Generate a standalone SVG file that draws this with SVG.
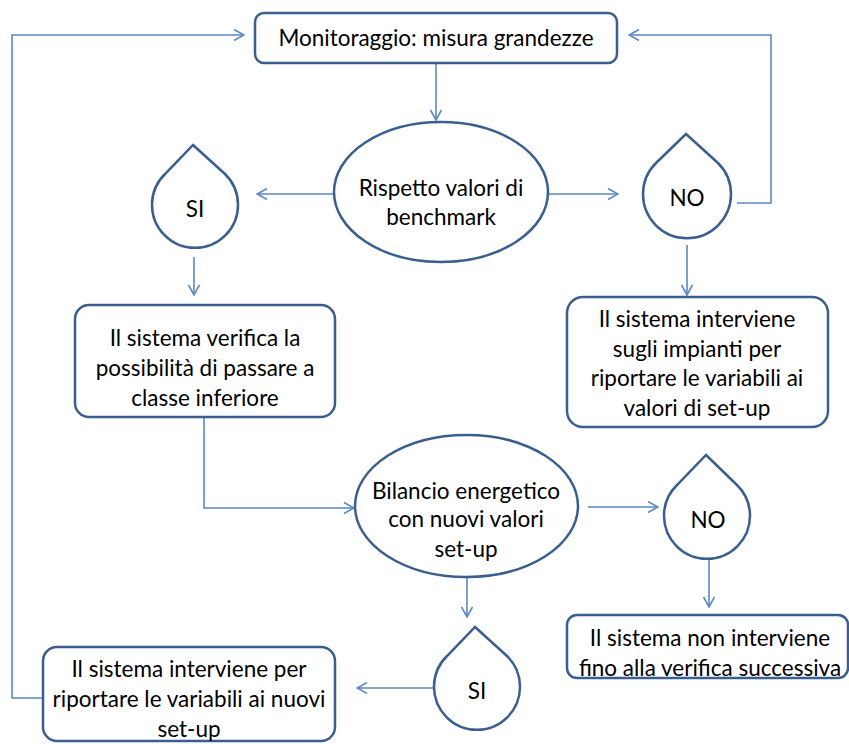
<svg xmlns="http://www.w3.org/2000/svg" width="849" height="744" viewBox="0 0 849 744">
  <style>
    .node { fill: #ffffff; stroke: #3a5f8e; stroke-width: 2.5; }
    .conn { fill: none; stroke: #5b87c2; stroke-width: 1.6; }
    text { font-family: Lato, "Liberation Sans", sans-serif; font-size: 22.5px; fill: #000000; text-anchor: middle; dominant-baseline: central; }
  </style>
  <defs>
    <marker id="arrow" viewBox="0 0 12 12" refX="11" refY="6" markerWidth="12" markerHeight="12" markerUnits="userSpaceOnUse" orient="auto">
      <path d="M1,0.5 L11,6 L1,11.5" fill="none" stroke="#5b87c2" stroke-width="1.6"/>
    </marker>
  </defs>

  <g id="connectors">
    <polyline class="conn" points="43,698 12,698 12,35 244,35" marker-end="url(#arrow)"/>
    <polyline class="conn" points="737,203 771,203 771,35 629,35" marker-end="url(#arrow)"/>
    <line class="conn" x1="436" y1="64" x2="436" y2="120" marker-end="url(#arrow)"/>
    <line class="conn" x1="333" y1="194" x2="257" y2="194" marker-end="url(#arrow)"/>
    <line class="conn" x1="548" y1="194" x2="618" y2="194" marker-end="url(#arrow)"/>
    <line class="conn" x1="194" y1="257" x2="194" y2="295" marker-end="url(#arrow)"/>
    <line class="conn" x1="687" y1="245" x2="687" y2="295" marker-end="url(#arrow)"/>
    <polyline class="conn" points="204,417 204,508 354,508" marker-end="url(#arrow)"/>
    <line class="conn" x1="588" y1="507" x2="658" y2="507" marker-end="url(#arrow)"/>
    <line class="conn" x1="709" y1="560" x2="709" y2="607" marker-end="url(#arrow)"/>
    <line class="conn" x1="467" y1="578" x2="467" y2="617" marker-end="url(#arrow)"/>
    <line class="conn" x1="435" y1="688" x2="357" y2="688" marker-end="url(#arrow)"/>
  </g>

  <g id="monitoraggio">
    <rect class="node" x="255" y="13" width="362" height="50" rx="9"/>
    <text x="436" y="37">Monitoraggio: misura grandezze</text>
  </g>

  <g id="rispetto-benchmark">
    <ellipse class="node" cx="441" cy="192" rx="107" ry="70"/>
    <text x="441" y="187">Rispetto valori di</text>
    <text x="441" y="216">benchmark</text>
  </g>

  <g id="si-1">
    <path class="node" d="M193,145 L225,174 A43,43 0 1 1 165,174 Z"/>
    <text x="195" y="208">SI</text>
  </g>

  <g id="no-1">
    <path class="node" d="M686,134 L718,163 A44,44 0 1 1 656,163 Z"/>
    <text x="687" y="197">NO</text>
  </g>

  <g id="verifica-classe">
    <rect class="node" x="75" y="305" width="260" height="112" rx="14"/>
    <text x="205" y="337">Il sistema verifica la</text>
    <text x="205" y="367">possibilità di passare a</text>
    <text x="205" y="397">classe inferiore</text>
  </g>

  <g id="interviene-impianti">
    <rect class="node" x="567" y="297" width="261" height="130" rx="16"/>
    <text x="697" y="318">Il sistema interviene</text>
    <text x="697" y="348">sugli impianti  per</text>
    <text x="697" y="377">riportare le variabili  ai</text>
    <text x="697" y="407">valori di set-up</text>
  </g>

  <g id="bilancio-energetico">
    <ellipse class="node" cx="466.5" cy="506" rx="111.5" ry="71"/>
    <text x="466" y="490">Bilancio energetico</text>
    <text x="466" y="518">con nuovi valori</text>
    <text x="466" y="548">set-up</text>
  </g>

  <g id="no-2">
    <path class="node" d="M706,455 L737,485 A43,43 0 1 1 677,485 Z"/>
    <text x="708" y="519">NO</text>
  </g>

  <g id="non-interviene">
    <rect class="node" x="567" y="615" width="281" height="63" rx="10"/>
    <text x="710" y="637">Il sistema non  interviene</text>
    <text x="710" y="667">fino alla  verifica successiva</text>
  </g>

  <g id="si-2">
    <path class="node" d="M475,627 L507,656 A43,43 0 1 1 447,656 Z"/>
    <text x="477" y="690">SI</text>
  </g>

  <g id="interviene-nuovi">
    <rect class="node" x="43" y="647" width="292" height="94" rx="14"/>
    <text x="189" y="668">Il sistema interviene per</text>
    <text x="189" y="698">riportare le variabili  ai nuovi</text>
    <text x="189" y="728">set-up</text>
  </g>
</svg>
